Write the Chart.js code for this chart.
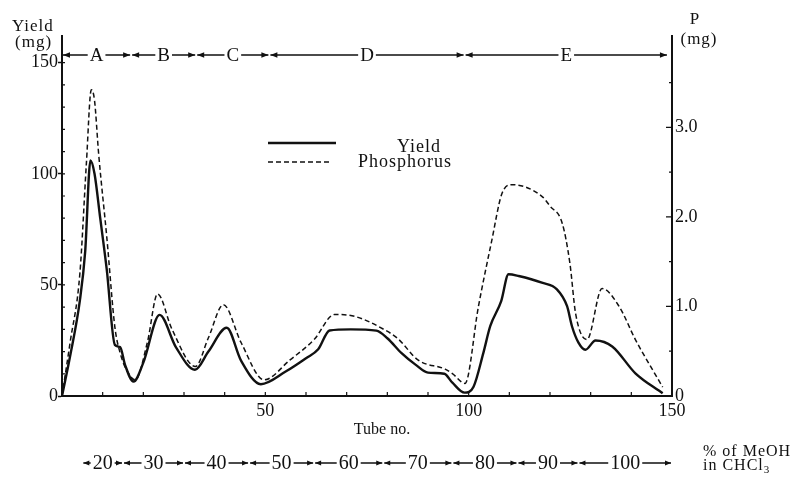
<!DOCTYPE html>
<html>
<head>
<meta charset="utf-8">
<script src="https://cdn.jsdelivr.net/npm/chart.js@4.4.0/dist/chart.umd.min.js"></script>
<style>
  html, body { margin: 0; padding: 0; background: #fff; }
</style>
</head>
<body>
<canvas id="myChart" width="801" height="481"></canvas>
<script>
// yield curve (mg) against tube number
const yieldTube = [0, 2, 4.4, 5.7, 7.0, 8, 9.4, 11, 13, 14.3, 15.5, 17.6, 20, 24, 28, 32.7, 36, 40.5, 44, 48.9,
  55, 60, 63, 65.8, 71, 77.3, 80, 83.5, 87, 90, 94, 96, 99, 101.2, 103.6, 105.3, 108, 109.8, 112.3,
  118, 121.7, 124.2, 125.4, 127, 128.7, 131.2, 135.3, 141, 147.7];
const yieldMg = [0, 18, 43, 65, 106, 100, 80, 57, 23, 22, 14, 6.5, 15, 36.5, 22, 11.8, 20, 30.7, 16, 5.3,
  11, 17, 21, 29.5, 30, 29.4, 26, 19.3, 14, 10.5, 10, 6, 1.5, 4.2, 19.3, 31.4, 42.7, 54.8, 54,
  51, 48, 40.4, 31.4, 24, 20.8, 25, 22.3, 10.2, 1.2];

// phosphorus curve (mg P)
const phosTube = [0, 2, 4.4, 6.0, 7.2, 8, 9, 11, 13, 14.3, 16, 18, 21, 23.5, 27, 32.8, 36, 39.7, 44, 49.7,
  56, 62, 67, 71.9, 79.3, 82.6, 87.6, 94.2, 96, 99.1, 102.4, 105.7, 108.1, 110.6, 118, 120, 123,
  124.9, 126.3, 129.1, 132.8, 137, 141, 147.7];
const phosMg = [0, 0.6, 1.37, 2.6, 3.42, 3.3, 2.71, 1.78, 0.77, 0.48, 0.28, 0.18, 0.6, 1.14, 0.75, 0.33, 0.65, 1.02, 0.6, 0.18,
  0.4, 0.63, 0.91, 0.89, 0.74, 0.64, 0.40, 0.30, 0.25, 0.14, 1.0, 1.74, 2.25, 2.36, 2.23, 2.12, 1.93,
  1.48, 0.92, 0.63, 1.20, 1.0, 0.63, 0.10];

const fractionBounds = [0, 17, 33, 51, 99, 149];
const fractionNames = ['A', 'B', 'C', 'D', 'E'];
const solventBounds = [5, 15, 30, 46, 62, 79, 96, 112, 127, 150];
const solventNames = ['20', '30', '40', '50', '60', '70', '80', '90', '100'];

const tubeTicks = [50, 100, 150];
const yieldTicks = [0, 50, 100, 150];
const phosTicks = [0, 1, 2, 3];

const SERIF = '"Liberation Serif", "DejaVu Serif", serif';
const INK = '#111';

function pts(xs, ys) {
  return xs.map((x, i) => ({ x: x, y: ys[i] }));
}

function head(ctx, x, y, dir, s) {
  ctx.beginPath();
  ctx.moveTo(x, y);
  ctx.lineTo(x - dir * s, y - s * 0.4);
  ctx.lineTo(x - dir * s, y + s * 0.4);
  ctx.closePath();
  ctx.fill();
}

function arrowRow(ctx, xs, bounds, names, y, font, s) {
  ctx.font = font;
  ctx.textAlign = 'center';
  ctx.textBaseline = 'middle';
  ctx.lineWidth = 1.3;
  for (let i = 0; i < names.length; i++) {
    const x0 = xs.getPixelForValue(bounds[i]) + 1;
    const x1 = xs.getPixelForValue(bounds[i + 1]) - 1;
    const mid = (x0 + x1) / 2;
    const w = ctx.measureText(names[i]).width / 2 + 2;
    ctx.beginPath();
    ctx.moveTo(x0, y); ctx.lineTo(mid - w, y);
    ctx.moveTo(mid + w, y); ctx.lineTo(x1, y);
    ctx.stroke();
    head(ctx, x0, y, -1, s);
    head(ctx, x1, y, 1, s);
    ctx.fillText(names[i], mid, y + 1);
  }
}

const extras = {
  id: 'extras',
  afterDraw(chart) {
    const ctx = chart.ctx;
    const xs = chart.scales.x, ys = chart.scales.y, ps = chart.scales.y1;
    const bottom = chart.chartArea.bottom, left = chart.chartArea.left, right = chart.chartArea.right;
    ctx.save();
    ctx.strokeStyle = INK;
    ctx.fillStyle = INK;

    // inward minor ticks
    ctx.lineWidth = 1.2;
    ctx.beginPath();
    for (let t = 10; t < 150; t += 10) {
      const x = xs.getPixelForValue(t);
      ctx.moveTo(x, bottom); ctx.lineTo(x, bottom - 4);
    }
    for (let v = 10; v <= 150; v += 10) {
      const y = ys.getPixelForValue(v);
      ctx.moveTo(left, y); ctx.lineTo(left + 3, y);
    }
    for (let v = 0.5; v <= 3.5; v += 0.5) {
      const y = ps.getPixelForValue(v);
      const len = Number.isInteger(v) ? 6 : 3;
      ctx.moveTo(right, y); ctx.lineTo(right - len, y);
    }
    ctx.stroke();

    // fraction bar and solvent bar
    arrowRow(ctx, xs, fractionBounds, fractionNames, 55, '19px ' + SERIF, 7);
    arrowRow(ctx, xs, solventBounds, solventNames, 463, '20px ' + SERIF, 6);

    // axis titles
    ctx.textBaseline = 'middle';
    ctx.letterSpacing = '1px';
    ctx.font = '17px ' + SERIF;
    ctx.textAlign = 'left';
    ctx.fillText('Yield', 12, 27);
    ctx.fillText('(mg)', 15, 43);
    ctx.textAlign = 'center';
    ctx.fillText('P', 695, 20);
    ctx.fillText('(mg)', 699, 40);
    ctx.letterSpacing = '0px';
    ctx.font = '16px ' + SERIF;
    ctx.fillText('Tube no.', 382, 430);

    ctx.textAlign = 'left';
    ctx.letterSpacing = '1px';
    ctx.font = '16px ' + SERIF;
    ctx.fillText('% of MeOH', 703, 452);
    ctx.fillText('in CHCl', 703, 466);
    const w = ctx.measureText('in CHCl').width;
    ctx.font = '11px ' + SERIF;
    ctx.fillText('3', 703 + w, 470);

    // legend
    ctx.letterSpacing = '1px';
    ctx.font = '18px ' + SERIF;
    ctx.lineWidth = 2.6;
    ctx.beginPath(); ctx.moveTo(268, 143); ctx.lineTo(336, 143); ctx.stroke();
    ctx.fillText('Yield', 397, 147);
    ctx.lineWidth = 1.4;
    ctx.setLineDash([5, 3]);
    ctx.beginPath(); ctx.moveTo(268, 162); ctx.lineTo(330, 162); ctx.stroke();
    ctx.setLineDash([]);
    ctx.fillText('Phosphorus', 358, 162);
    ctx.restore();
  }
};

const ctx = document.getElementById('myChart');
const myChart = new Chart(ctx, {
  type: 'line',
  data: {
    datasets: [{
      label: 'Yield',
      data: pts(yieldTube, yieldMg),
      yAxisID: 'y',
      borderColor: INK,
      borderWidth: 2.4,
      pointRadius: 0,
      cubicInterpolationMode: 'monotone'
    }, {
      label: 'Phosphorus',
      data: pts(phosTube, phosMg),
      yAxisID: 'y1',
      borderColor: INK,
      borderWidth: 1.5,
      borderDash: [5, 3],
      pointRadius: 0,
      cubicInterpolationMode: 'monotone'
    }]
  },
  options: {
    responsive: false,
    animation: false,
    layout: { padding: { top: 36, left: 0, right: 0, bottom: 0 } },
    plugins: { legend: { display: false }, tooltip: { enabled: false } },
    scales: {
      x: {
        type: 'linear',
        min: 0,
        max: 150,
        afterBuildTicks: (s) => { s.ticks = tubeTicks.map(v => ({ value: v })); },
        afterFit: (s) => { s.height = 85; },
        grid: { drawOnChartArea: false, drawTicks: false },
        border: { color: INK, width: 2 },
        ticks: { color: INK, font: { family: SERIF, size: 18 }, padding: 4, maxRotation: 0 }
      },
      y: {
        position: 'left',
        min: 0,
        max: 162,
        afterBuildTicks: (s) => { s.ticks = yieldTicks.map(v => ({ value: v })); },
        afterFit: (s) => { s.width = 62; },
        grid: { drawOnChartArea: false, tickLength: 4, tickColor: INK, tickWidth: 1.5 },
        border: { color: INK, width: 2 },
        ticks: { color: INK, font: { family: SERIF, size: 18 }, padding: 0 }
      },
      y1: {
        position: 'right',
        min: 0,
        max: 4.02,
        afterBuildTicks: (s) => { s.ticks = phosTicks.map(v => ({ value: v })); },
        afterFit: (s) => { s.width = 129; },
        grid: { drawOnChartArea: false, drawTicks: false },
        border: { color: INK, width: 2 },
        ticks: {
          color: INK, font: { family: SERIF, size: 18 }, padding: 3,
          callback: (v) => v === 0 ? '0' : v.toFixed(1)
        }
      }
    }
  },
  plugins: [extras]
});
</script>
</body>
</html>
